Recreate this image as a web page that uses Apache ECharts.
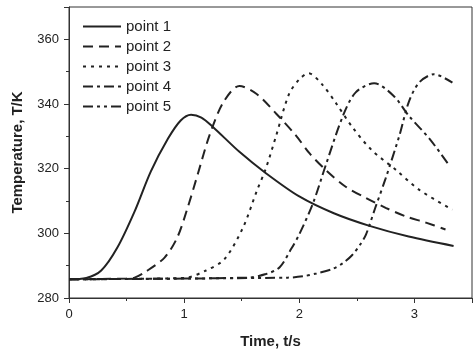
<!DOCTYPE html>
<html>
<head>
<meta charset="utf-8">
<script src="https://cdn.jsdelivr.net/npm/echarts@6/dist/echarts.min.js"></script>
<style>
  html, body { margin: 0; padding: 0; background: #fff; }
  #chart { width: 476px; height: 354px; }
</style>
</head>
<body>
<div id="chart"></div>
<script>
// values
const seriesNames = ['point 1', 'point 2', 'point 3', 'point 4', 'point 5']

const time1 = [0, 0.15, 0.28, 0.42, 0.57, 0.71, 0.86, 0.97, 1.06, 1.15, 1.25, 1.48, 1.71, 2.0, 2.3, 2.61, 2.95, 3.34]
const temp1 = [285.8, 286.2, 288.5, 295.6, 306.8, 319.1, 329.3, 334.9, 336.7, 335.8, 332.9, 325.2, 318.6, 311.4, 306.2, 302.3, 299.0, 296.1]

const time2 = [0, 0.5, 0.57, 0.66, 0.83, 0.94, 1.03, 1.12, 1.22, 1.34, 1.48, 1.63, 1.8, 1.97, 2.09, 2.23, 2.4, 2.58, 2.75, 2.92, 3.1, 3.27]
const temp2 = [285.8, 286.0, 286.3, 288, 292.5, 298.7, 307.9, 318.5, 330.3, 340.5, 345.6, 343.1, 337, 330.3, 324.7, 319.6, 314.5, 310.9, 307.9, 305.3, 303.3, 301.2]

const time3 = [0, 1.0, 1.19, 1.35, 1.51, 1.63, 1.71, 1.8, 1.91, 2.0, 2.08, 2.2, 2.32, 2.46, 2.63, 2.84, 3.04, 3.33]
const temp3 = [285.8, 286.2, 288.5, 292, 301.7, 313, 320.1, 330.3, 343, 347.6, 349.5, 346, 340.2, 332.9, 325.7, 319.6, 313.5, 307.3]

const time4 = [0, 1.55, 1.71, 1.83, 1.93, 2.0, 2.12, 2.23, 2.38, 2.49, 2.65, 2.82, 2.95, 3.13, 3.3]
const temp4 = [285.8, 286.3, 287.4, 289.5, 295.2, 299.7, 309.4, 321.1, 336.4, 343.6, 346.4, 342.5, 336.4, 329.3, 321.1]

const time5 = [0, 1.9, 2.03, 2.15, 2.29, 2.38, 2.46, 2.53, 2.58, 2.66, 2.75, 2.87, 2.95, 3.04, 3.17, 3.33]
const temp5 = [285.8, 286.3, 286.7, 287.6, 289, 290.8, 293.3, 296.6, 299.7, 307.9, 317, 330.3, 340.5, 346.6, 349.2, 346.6]

const times = [time1, time2, time3, time4, time5]
const temps = [temp1, temp2, temp3, temp4, temp5]
// solid, dash, dot, dash-dot, dash-dot-dot
const dashes = ['solid', [10, 6], [3, 5], [10, 4, 3, 4], [10, 4, 3, 4, 3, 4]]

const chart = echarts.init(document.getElementById('chart'))

const axisColor = '#333'
const font = 'Liberation Sans, Arial, sans-serif'

const option = {
  animation: false,
  backgroundColor: '#fff',
  textStyle: { fontFamily: font },
  grid: {
    left: 69,
    right: 4,
    top: 7,
    bottom: 53,
    show: true,
    borderColor: axisColor,
    borderWidth: 1,
  },
  legend: {
    orient: 'vertical',
    left: 77,
    top: 14,
    itemWidth: 38,
    itemHeight: 14,
    itemGap: 5,
    data: seriesNames,
    itemStyle: { opacity: 0 },
    textStyle: { fontSize: 15, color: '#222', fontFamily: font },
  },
  xAxis: {
    type: 'value',
    min: 0,
    max: 3.5,
    interval: 1,
    name: 'Time, t/s',
    nameLocation: 'middle',
    nameGap: 36,
    nameTextStyle: { fontSize: 15, fontWeight: 'bold', color: '#222' },
    axisLine: { lineStyle: { color: axisColor, width: 1 } },
    axisTick: { inside: false, length: 5, lineStyle: { color: axisColor } },
    minorTick: { show: true, splitNumber: 2, length: 3, lineStyle: { color: axisColor } },
    axisLabel: {
      color: '#222',
      fontSize: 13,
      margin: 10,
      formatter: function (v) { return v % 1 === 0 ? String(v) : '' },
    },
    splitLine: { show: false },
  },
  yAxis: {
    type: 'value',
    min: 280,
    max: 370,
    interval: 20,
    name: 'Temperature, T/K',
    nameLocation: 'middle',
    nameGap: 44,
    nameTextStyle: { fontSize: 15, fontWeight: 'bold', color: '#222' },
    axisLine: { show: true, lineStyle: { color: axisColor, width: 1 } },
    axisTick: { show: true, inside: false, length: 5, lineStyle: { color: axisColor } },
    minorTick: { show: true, splitNumber: 2, length: 3, lineStyle: { color: axisColor } },
    axisLabel: {
      color: '#222',
      fontSize: 13,
      margin: 10,
      formatter: function (v) { return v <= 360 ? String(v) : '' },
    },
    splitLine: { show: false },
  },
  series: seriesNames.map(function (name, i) {
    return {
      name: name,
      type: 'line',
      showSymbol: false,
      symbol: 'none',
      smooth: 0.3,
      data: times[i].map(function (t, j) { return [t, temps[i][j]] }),
      lineStyle: { color: '#222', width: 2, type: dashes[i] },
      itemStyle: { color: '#222' },
    }
  }),
}

chart.setOption(option)
</script>
</body>
</html>
